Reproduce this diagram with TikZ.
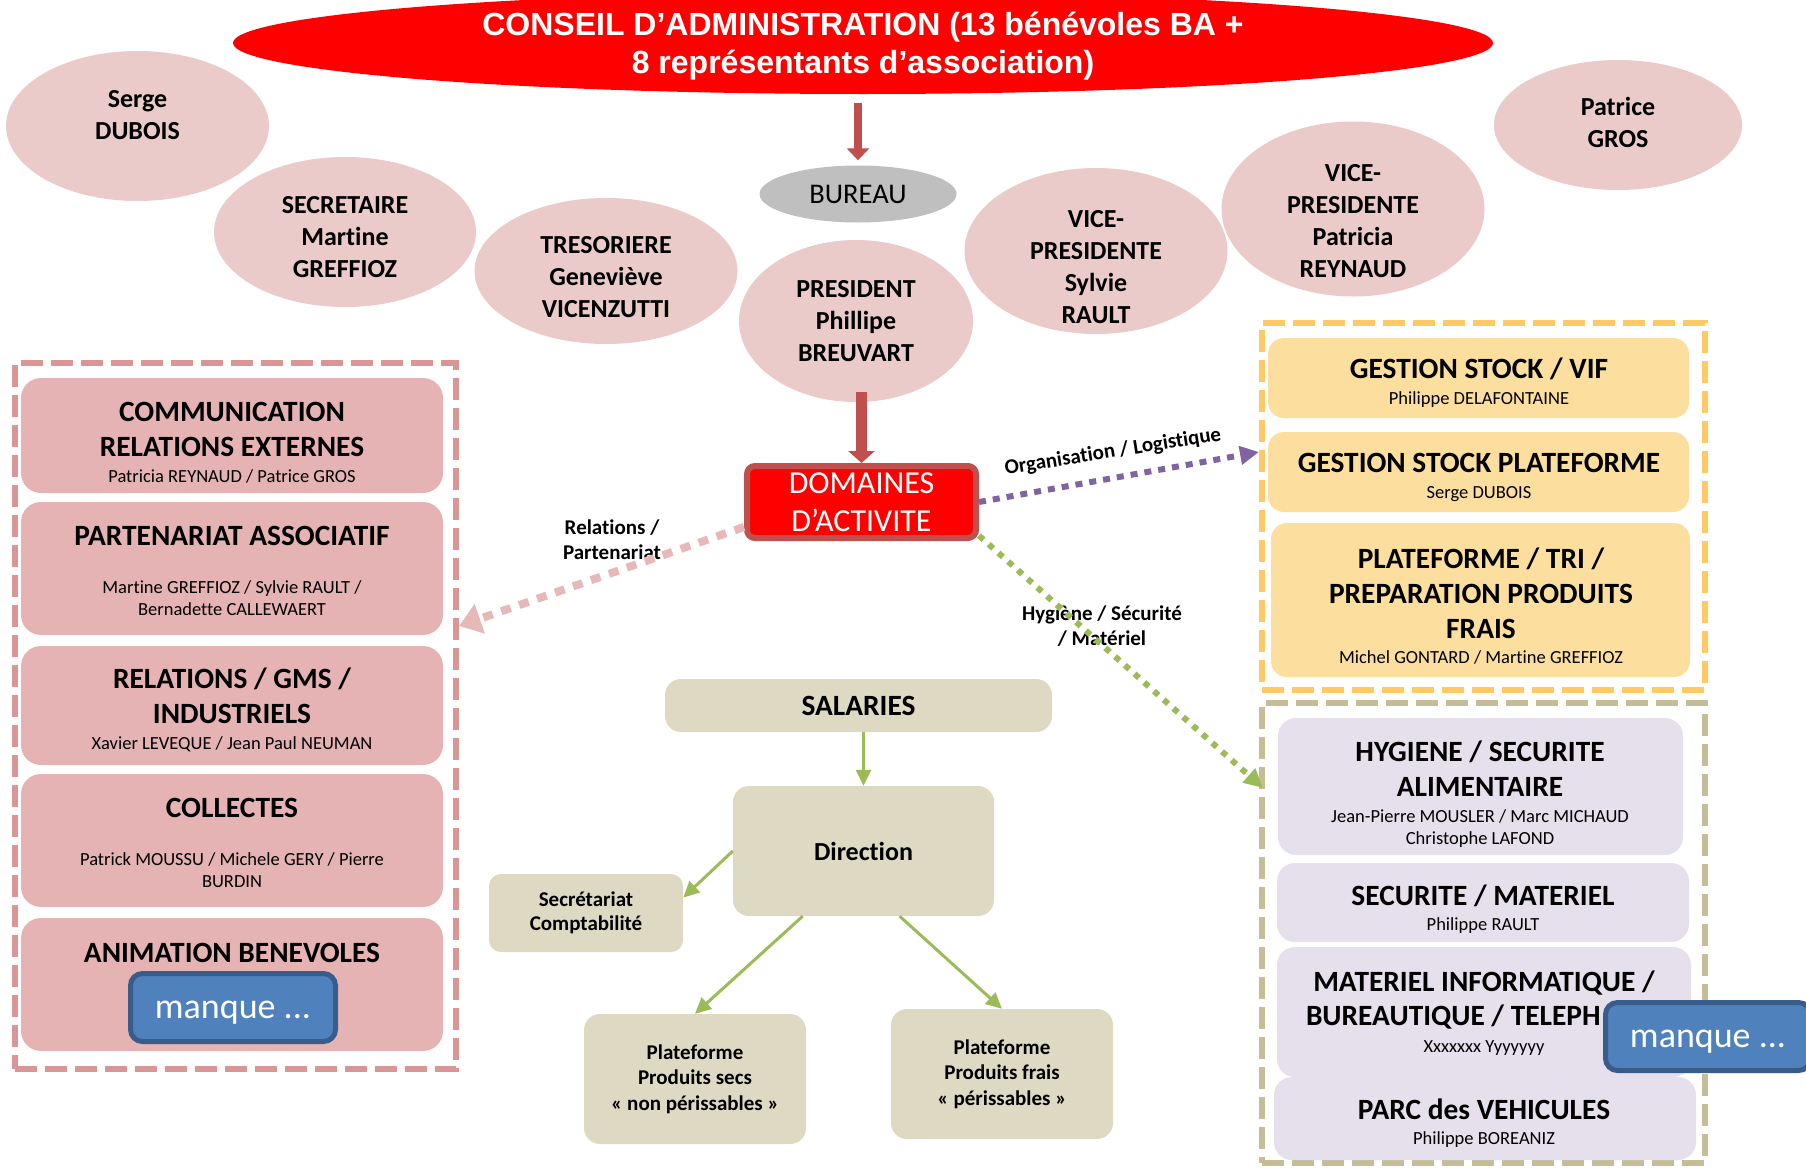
\documentclass[tikz,border=0pt]{standalone}
\usepackage{fontspec}
\setmainfont{Carlito}[Ligatures=NoCommon]
\newfontfamily\arialfont{Liberation Sans}
\usetikzlibrary{shapes.geometric,arrows.meta}
\definecolor{cRed}{HTML}{FF0000}
\definecolor{cRedB}{HTML}{C0504D}
\definecolor{cCirc}{HTML}{EBCACA}
\definecolor{cGray}{HTML}{BFBFBF}
\definecolor{cLbox}{HTML}{E5B3B3}
\definecolor{cLdash}{HTML}{D99694}
\definecolor{cYbox}{HTML}{FCDF9E}
\definecolor{cYdash}{HTML}{FFC966}
\definecolor{cVbox}{HTML}{E5E0EC}
\definecolor{cKdash}{HTML}{C4BD97}
\definecolor{cKbox}{HTML}{DDD9C3}
\definecolor{cGreen}{HTML}{9BBB59}
\definecolor{cPurple}{HTML}{8064A2}
\definecolor{cPinkA}{HTML}{E6B9B8}
\definecolor{cBlue}{HTML}{4F81BD}
\definecolor{cBlueB}{HTML}{385D8A}
\newcommand\myTitle{\arialfont\fontsize{32}{38}\selectfont\bfseries}
\newcommand\myCirc{\fontsize{26}{32}\selectfont\bfseries}
\newcommand\myBur{\fontsize{28.5}{32}\selectfont}
\newcommand\myHead{\fontsize{29.4}{35}\selectfont\bfseries}
\newcommand\myName{\fontsize{18.5}{22}\selectfont\mdseries}
\newcommand\myLab{\fontsize{21}{25}\selectfont\bfseries}
\newcommand\myDom{\fontsize{32}{38}\selectfont}
\newcommand\myMq{\fontsize{36}{40}\selectfont}
\begin{document}
\begin{tikzpicture}[x=1pt,y=-1pt,
  wh/.style 2 args={minimum width=#1pt, minimum height=#2pt},
  circ/.style={ellipse, fill=cCirc, inner sep=0pt},
  ctxt/.style={align=center, inner sep=0pt, font=\myCirc},
  lbox/.style={rectangle, rounded corners=20pt, fill=cLbox, inner sep=0pt},
  ybox/.style={rectangle, rounded corners=16pt, fill=cYbox, inner sep=0pt},
  vbox/.style={rectangle, rounded corners=18pt, fill=cVbox, inner sep=0pt},
  kbox/.style={rectangle, rounded corners=16pt, fill=cKbox, inner sep=0pt, align=center},
  htxt/.style={align=center, inner sep=0pt, font=\myHead},
  labtxt/.style={align=center, inner sep=0pt, font=\myLab},
  cont/.style={rectangle, line width=6pt, dash pattern=on 22pt off 8pt, inner sep=0pt},
  mq/.style={rectangle, rounded corners=12pt, fill=cBlue, draw=cBlueB, line width=5pt,
     text=white, font=\myMq, inner sep=0pt, text height=22pt, text depth=0pt},
  redarr/.style={draw=cRedB, line width=8pt, -{Triangle[length=12pt,width=22pt]}},
  redarrb/.style={draw=cRedB, line width=11pt, -{Triangle[length=12pt,width=26pt]}},
  grarr/.style={draw=cGreen, line width=3pt, -{Triangle[length=16pt,width=15pt]}},
  pinkdot/.style={draw=cPinkA, line width=8pt, dash pattern=on 10pt off 9pt, -{Triangle[length=22pt,width=30pt]}},
  purpdot/.style={draw=cPurple, line width=6pt, dash pattern=on 7pt off 7pt, -{Triangle[length=19pt,width=18pt]}},
  greendot/.style={draw=cGreen, line width=6pt, dash pattern=on 6pt off 7pt, -{Triangle[length=19pt,width=18pt]}}
]
\useasboundingbox (0,0) rectangle (1806,1167);
\fill[white] (0,0) rectangle (1806,1167);

% Conseil d'administration
\node[ellipse, fill=cRed, inner sep=0pt, wh={1260}{102}] (ca) at (863,43) {};
\node[align=center, inner sep=0pt, font=\myTitle, text=white] (caT) at (863,46)
  {CONSEIL D’ADMINISTRATION (13 bénévoles BA +\\8 représentants d’association)};

% bureau members
\node[circ, wh={263}{150}] (serge) at (137.5,126) {};
\node[ctxt] (sergeT) at (137.5,115) {Serge\\DUBOIS};
\node[circ, wh={262}{150}] (secr) at (345,232) {};
\node[ctxt] (secrT) at (345,237) {SECRETAIRE\\Martine\\GREFFIOZ};
\node[circ, wh={263}{146}] (treso) at (606,271) {};
\node[ctxt] (tresoT) at (606,277) {TRESORIERE\\Geneviève\\VICENZUTTI};
\node[circ, wh={234}{162}] (pres) at (856,321) {};
\node[ctxt] (presT) at (856,321.5) {PRESIDENT\\Phillipe\\BREUVART};
\node[ellipse, fill=cGray, inner sep=0pt, wh={197}{57}, font=\myBur] (bureau) at (858,194) {BUREAU};
\node[circ, wh={263}{166}] (sylvie) at (1096,251) {};
\node[ctxt] (sylvieT) at (1096,267) {VICE-\\PRESIDENTE\\Sylvie\\RAULT};
\node[circ, wh={263}{175}] (patricia) at (1353,209) {};
\node[ctxt] (patriciaT) at (1353,221) {VICE-\\PRESIDENTE\\Patricia\\REYNAUD};
\node[circ, wh={248}{130}] (patrice) at (1618,125) {};
\node[ctxt] (patriceT) at (1618,122) {Patrice\\GROS};

% Domaines
\node[rectangle, rounded corners=8pt, fill=cRed, draw=cRedB, line width=6pt, inner sep=0pt,
  wh={229}{72}, align=center, text=white, font=\myDom] (dom) at (861.5,502) {DOMAINES\\D’ACTIVITE};

\draw[redarr, shorten <=9pt, shorten >=5pt] (bureau.north |- ca.south) -- (bureau.north);
\draw[redarrb, shorten <=-10pt] (dom.north |- pres.south) -- (dom.north);

% containers
\node[cont, draw=cLdash, wh={441}{706}] (lcont) at (235.5,716) {};
\node[cont, draw=cYdash, wh={443}{367}] (ycont) at (1483.5,506.5) {};
\node[cont, draw=cKdash, wh={443}{460}] (kcont) at (1483.5,933) {};

% left boxes
\node[lbox, wh={422}{115}] (l1) at (232,435.5) {};
\node[htxt] (l1T) at (232,442.5) {COMMUNICATION\\RELATIONS EXTERNES\\[-9pt]{\myName Patricia REYNAUD / Patrice GROS}};
\node[lbox, wh={422}{133}] (l2) at (232,568.5) {};
\node[htxt] (l2T) at (232,570.5) {PARTENARIAT ASSOCIATIF\\[13pt]{\myName Martine GREFFIOZ / Sylvie RAULT /}\\[-13pt]{\myName Bernadette CALLEWAERT}};
\node[lbox, wh={422}{119}] (l3) at (232,705.5) {};
\node[htxt] (l3T) at (232,710) {RELATIONS / GMS /\\INDUSTRIELS\\[-9pt]{\myName Xavier LEVEQUE / Jean Paul NEUMAN}};
\node[lbox, wh={422}{133}] (l4) at (232,840.5) {};
\node[htxt] (l4T) at (232,842.5) {COLLECTES\\[13pt]{\myName Patrick MOUSSU / Michele GERY / Pierre}\\[-13pt]{\myName BURDIN}};
\node[lbox, wh={422}{133}] (l5) at (232,984.5) {};
\node[htxt] (l5T) at (232,952.5) {ANIMATION BENEVOLES};

% yellow boxes
\node[ybox, wh={421}{80}] (y1) at (1478.5,378) {};
\node[htxt] (y1T) at (1479,383) {GESTION STOCK / VIF\\[-9pt]{\myName Philippe DELAFONTAINE}};
\node[ybox, wh={421}{80}] (y2) at (1478.5,472) {};
\node[htxt] (y2T) at (1479,477.5) {GESTION STOCK PLATEFORME\\[-9pt]{\myName Serge DUBOIS}};
\node[ybox, wh={419}{154}] (y3) at (1480.5,600) {};
\node[htxt] (y3T) at (1481,606) {PLATEFORME / TRI /\\PREPARATION PRODUITS\\FRAIS\\[-10pt]{\myName Michel GONTARD / Martine GREFFIOZ}};

% lavender boxes
\node[vbox, wh={405}{137}] (v1) at (1480.5,786.5) {};
\node[htxt] (v1T) at (1480,794.5) {HYGIENE / SECURITE\\ALIMENTAIRE\\[-9pt]{\myName Jean-Pierre MOUSLER / Marc MICHAUD}\\[-13pt]{\myName Christophe LAFOND}};
\node[vbox, wh={412}{79}] (v2) at (1483,902.5) {};
\node[htxt] (v2T) at (1483,909.5) {SECURITE / MATERIEL\\[-10pt]{\myName Philippe RAULT}};
\node[vbox, wh={414}{130}] (v3) at (1484,1012) {};
\node[htxt] (v3T) at (1484,1013.5) {MATERIEL INFORMATIQUE /\\[-1pt]BUREAUTIQUE / TELEPH\hphantom{ONIE}\\[-8pt]{\myName Xxxxxxx Yyyyyyy}};
\node[vbox, wh={422}{83}] (v4) at (1485,1118.5) {};
\node[htxt] (v4T) at (1484,1123) {PARC des VEHICULES\\[-10pt]{\myName Philippe BOREANIZ}};

% salaries
\node[kbox, wh={387}{53}, font=\myHead] (sal) at (858.5,705.5) {SALARIES};
\node[kbox, wh={261}{130}, font=\fontsize{26}{32}\selectfont\bfseries] (dir) at (863.5,851) {Direction};
\node[kbox, rounded corners=12pt, wh={194}{78}, font=\myLab, text depth=4pt] (sc) at (586,913) {Secrétariat\\[-1pt]Comptabilité};
\node[kbox, wh={222}{130}, font=\myLab] (secs) at (695,1079) {Plateforme\\[0.5pt]Produits secs\\[0.5pt]« non périssables »};
\node[kbox, wh={222}{130}, font=\myLab] (frais) at (1002,1074) {Plateforme\\[0.5pt]Produits frais\\[0.5pt]« périssables »};

\draw[grarr] (dir.north |- sal.south) -- (dir.north);
\draw[grarr] (dir.west) -- (sc.9);
\draw[grarr] (dir.227.5) -- (secs.north);
\draw[grarr] (dir.-61) -- (frais.north);

% labels
\node[labtxt] (relL) at (612,539.5) {Relations /\\Partenariat};
\node[labtxt, rotate=9] (orgL) at (1113,452) {Organisation / Logistique};
\node[labtxt] (hygL) at (1102,626) {Hygiène / Sécurité\\/ Matériel};

% dotted connectors
\coordinate (pinkTip) at (459,626);
\coordinate (purpTip) at (1259,452);
\coordinate (greenTip) at (1263,788);
\draw[pinkdot] (dom.192) -- (pinkTip);
\draw[purpdot] (dom.east) -- (purpTip);
\draw[greendot] (dom.-16) -- (greenTip);

% manque
\node[mq, wh={205}{68}] (mq1) at (233,1007.5) {manque ...};
\node[mq, wh={205}{68}] (mq2) at (1708,1036.5) {manque ...};
\end{tikzpicture}
\end{document}
